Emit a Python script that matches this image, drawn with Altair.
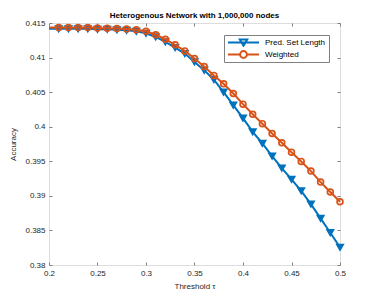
import altair as alt
import pandas as pd

thresholds = [0.20, 0.21, 0.22, 0.23, 0.24, 0.25, 0.26, 0.27, 0.28, 0.29, 0.30,
              0.31, 0.32, 0.33, 0.34, 0.35, 0.36, 0.37, 0.38, 0.39, 0.40,
              0.41, 0.42, 0.43, 0.44, 0.45, 0.46, 0.47, 0.48, 0.49, 0.50]
pred_set_length = [0.41416, 0.41416, 0.41416, 0.41416, 0.41416, 0.41409, 0.41409, 0.41402, 0.41395, 0.41380, 0.41351,
                   0.41298, 0.41226, 0.41145, 0.41058, 0.40937, 0.40817, 0.40682, 0.40499, 0.40311, 0.40123,
                   0.39926, 0.39758, 0.39575, 0.39401, 0.39238, 0.39073, 0.38881, 0.38675, 0.38467, 0.38256]
weighted = [0.41434, 0.41434, 0.41434, 0.41434, 0.41434, 0.41426, 0.41423, 0.41419, 0.41412, 0.41402, 0.41380,
            0.41330, 0.41265, 0.41185, 0.41096, 0.40986, 0.40870, 0.40742, 0.40620, 0.40480, 0.40326,
            0.40181, 0.40044, 0.39902, 0.39767, 0.39632, 0.39498, 0.39358, 0.39199, 0.39055, 0.38914]
series_names = ["Pred. Set Length", "Weighted"]
series_colors = ["#0072BD", "#D95319"]
x_ticks = [0.2, 0.25, 0.3, 0.35, 0.4, 0.45, 0.5]
y_ticks = [0.38, 0.385, 0.39, 0.395, 0.4, 0.405, 0.41, 0.415]
title_text = "Heterogenous Network with 1,000,000 nodes"
x_title = "Threshold τ"
y_title = "Accuracy"

FONT = "Liberation Sans"
TXT = "#262626"
BOX = "#808080"

rows = []
for name, vals in zip(series_names, [pred_set_length, weighted]):
    for t, v in zip(thresholds, vals):
        rows.append({"threshold": t, "accuracy": v, "series": name})
df = pd.DataFrame(rows)

xs = alt.Scale(domain=[0.2, 0.5], nice=False, zero=False)
ys = alt.Scale(domain=[0.38, 0.415], nice=False, zero=False)

x_axis = alt.Axis(values=x_ticks, format=".2~f", title=x_title, orient="bottom", offset=-3,
                  tickSize=3, tickColor=BOX, domain=False, grid=False, labelPadding=4,
                  labelFlush=False, labelFont=FONT, labelFontSize=8, labelColor=TXT,
                  titleFont=FONT, titleFontSize=8, titleFontWeight="normal", titleColor=TXT,
                  titlePadding=5)
y_axis = alt.Axis(values=y_ticks, format=".3~f", title=y_title, orient="left", offset=-3,
                  tickSize=3, tickColor=BOX, domain=False, grid=False, labelPadding=4,
                  labelFlush=False, labelFont=FONT, labelFontSize=8, labelColor=TXT,
                  titleFont=FONT, titleFontSize=8, titleFontWeight="normal", titleColor=TXT,
                  titlePadding=7)

base = alt.Chart(df)

enc = dict(
    x=alt.X("threshold:Q", scale=xs, axis=x_axis),
    y=alt.Y("accuracy:Q", scale=ys, axis=y_axis),
)

blue = base.transform_filter(alt.datum.series == series_names[0])
orange = base.transform_filter(alt.datum.series == series_names[1])

blue_line = blue.mark_line(color=series_colors[0], strokeWidth=2).encode(**enc)
blue_pts = blue.transform_filter(alt.datum.threshold > 0.205).mark_point(
    shape="triangle-down", filled=True, fill=series_colors[0], stroke=series_colors[0],
    strokeWidth=1.6, size=42, opacity=1).encode(**enc)
orange_line = orange.mark_line(color=series_colors[1], strokeWidth=2).encode(**enc)
orange_pts = orange.transform_filter(alt.datum.threshold > 0.205).mark_point(
    shape="circle", filled=False, color=series_colors[1], strokeWidth=1.7,
    size=34, opacity=1).encode(**enc)

inner = alt.layer(blue_line, blue_pts, orange_line, orange_pts)

tri_path = "M-1,0H1M-0.24,-0.2L0.24,-0.2L0,0.21Z"
circ_path = "M-1,0H-0.22M0.22,0H1M0.22,0A0.22,0.22,0,1,1,-0.22,0A0.22,0.22,0,1,1,0.22,0Z"

leg = alt.Legend(orient="none", legendX=175, legendY=12, title=None, padding=3,
                 fillColor="white", strokeColor=BOX, symbolSize=961, symbolStrokeWidth=2,
                 labelFont=FONT, labelFontSize=8, labelColor="#000", labelOffset=5,
                 clipHeight=9, rowPadding=3)

top_axis = alt.Axis(values=x_ticks, orient="top", offset=-3, tickSize=3, tickColor=BOX,
                    domain=False, grid=False, labels=False, title=None)
right_axis = alt.Axis(values=y_ticks, orient="right", offset=-3, tickSize=3, tickColor=BOX,
                      domain=False, grid=False, labels=False, title=None)

legend_layer = base.transform_filter("false").mark_point(filled=False, strokeWidth=2, opacity=1).encode(
    x=alt.X("threshold:Q", scale=xs, axis=top_axis),
    y=alt.Y("accuracy:Q", scale=ys, axis=right_axis),
    color=alt.Color("series:N", scale=alt.Scale(domain=series_names, range=series_colors), legend=leg),
    shape=alt.Shape("series:N", scale=alt.Scale(domain=series_names, range=[tri_path, circ_path]), legend=leg),
)

chart = alt.layer(inner, legend_layer).resolve_scale(
    x="independent", y="independent"
).properties(
    width=291, height=242,
    title=alt.TitleParams(title_text, font=FONT, fontSize=8, fontWeight="bold", color="#000",
                          anchor="middle", offset=1, dy=2),
    autosize=alt.AutoSizeParams(type="none"),
    padding={"left": 41, "top": 15, "right": 26, "bottom": 27},
).configure_view(stroke=BOX, strokeWidth=1).configure(background="white")

chart.save("out.html", embed_options={"renderer": "svg", "actions": False})
